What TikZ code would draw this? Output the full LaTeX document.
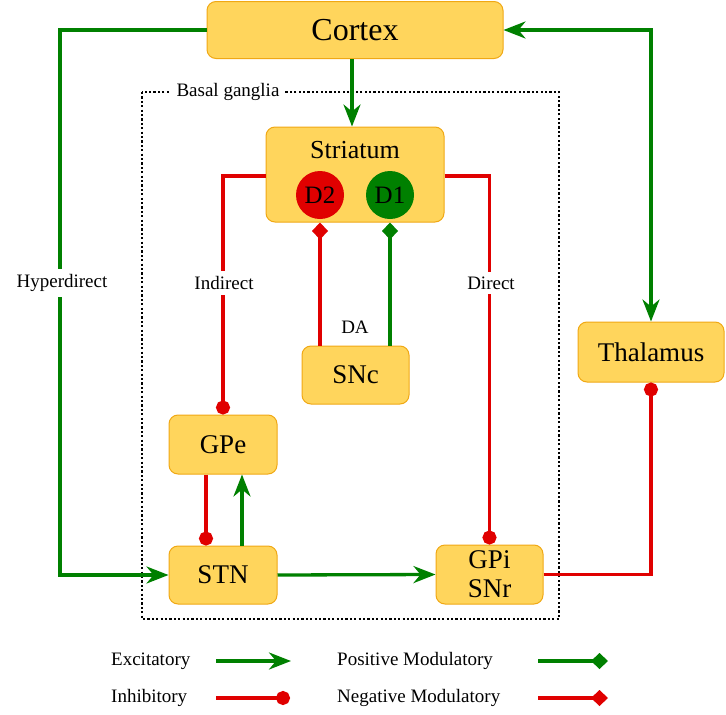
\documentclass[tikz,border=0pt]{standalone}
\usepackage{fontspec}
\setmainfont{Liberation Serif}
\usetikzlibrary{arrows.meta}
\definecolor{boxfill}{RGB}{255,213,92}
\definecolor{boxline}{RGB}{240,168,20}
\definecolor{exc}{RGB}{0,128,0}
\definecolor{inh}{RGB}{224,0,0}
\begin{document}
\begin{tikzpicture}[x=1pt,y=-1pt,
  box/.style={draw=boxline,fill=boxfill,line width=1pt,rounded corners=9pt,inner sep=0pt,
    font=\fontsize{27}{29}\selectfont,align=center},
  lbl/.style={font=\fontsize{19}{22}\selectfont,inner sep=1pt},
  exctip/.tip={Stealth[length=22pt,width=17pt,inset=7pt]},
  excline/.style={draw=exc,line width=3.3pt,-exctip},
  inhline/.style={draw=inh,line width=3.3pt,-{Circle[length=14pt]}},
  posmod/.style={draw=exc,line width=3.3pt,-{Diamond[length=17pt,width=16pt]}},
  negmod/.style={draw=inh,line width=3.3pt,-{Diamond[length=17pt,width=16pt]}},
  dot/.style={circle,inner sep=0pt,minimum size=48pt,font=\fontsize{25}{28}\selectfont}
]
\useasboundingbox (0,0) rectangle (726,715);

% basal ganglia frame
\draw[line width=1.3pt,dash pattern=on 2.2pt off 2.2pt] (142,92) rectangle (559,619);
\node[lbl,fill=white,inner xsep=6pt] (bglabel) at (228,92) {Basal ganglia};

% nodes
\node[box,minimum width=296pt,minimum height=57pt,font=\fontsize{32}{34}\selectfont] (cortex) at (355,30) {Cortex};
\node[box,minimum width=178pt,minimum height=95pt] (striatum) at (355,174.5) {};
\node[font=\fontsize{26}{28}\selectfont,inner sep=0pt] (stritext) at (355,150) {Striatum};
\node[dot,fill=inh] (d2) at (320,195) {D2};
\node[dot,fill=exc] (d1) at (390,195) {D1};
\node[box,minimum width=107pt,minimum height=58pt] (snc) at (355.5,375) {SNc};
\node[box,minimum width=108pt,minimum height=59pt] (gpe) at (223,444.5) {GPe};
\node[box,minimum width=108pt,minimum height=58pt] (stn) at (223,575) {STN};
\node[box,minimum width=107pt,minimum height=59pt] (gpi) at (489.5,574.5) {GPi\\SNr};
\node[box,minimum width=146pt,minimum height=60pt] (thal) at (651,352) {Thalamus};

% connectors
\coordinate (hc) at (60,575);
\draw[excline] (cortex.west) -| (hc) -- (stn.west);
\node[lbl,fill=white,inner ysep=5pt] (hyper) at (62,283) {Hyperdirect};

\draw[draw=exc,line width=3.3pt,exctip-exctip] (cortex.east) -| (thal.north);
\draw[excline] ([xshift=-3pt]cortex.south) -- ([xshift=-3pt]striatum.north);

\draw[inhline] ([yshift=-1.5pt]striatum.west) -| (gpe.north);
\node[lbl,fill=white,inner ysep=5pt] (indirect) at (224,283) {Indirect};
\draw[inhline] ([yshift=-1.5pt]striatum.east) -| (gpi.north);
\node[lbl,fill=white,inner ysep=5pt] (direct) at (491,283) {Direct};

\draw[negmod] (snc.north -| d2.south) -- (striatum.south -| d2.south);
\draw[posmod] (snc.north -| d1.south) -- (striatum.south -| d1.south);
\node[lbl] (da) at (355,327) {DA};

\draw[inhline] ([xshift=-17pt]gpe.south) -- ([xshift=-17pt]stn.north);
\draw[excline] ([xshift=19pt]stn.north) -- ([xshift=19pt]gpe.south);
\draw[excline] (stn.east) -- (gpi.west);
\draw[inhline] (gpi.east) -| (thal.south);

% legend
\node[lbl,anchor=west] (lexc) at (110,661) {Excitatory};
\coordinate (le1) at (216,661); \coordinate (le2) at (291,661);
\draw[excline] (le1) -- (le2);
\node[lbl,anchor=west] (linh) at (110,698) {Inhibitory};
\coordinate (li1) at (216,698); \coordinate (li2) at (290,698);
\draw[inhline] (li1) -- (li2);
\node[lbl,anchor=west] (lpos) at (336,661) {Positive Modulatory};
\coordinate (lp1) at (538,661); \coordinate (lp2) at (608,661);
\draw[posmod] (lp1) -- (lp2);
\node[lbl,anchor=west] (lneg) at (336,698) {Negative Modulatory};
\coordinate (ln1) at (538,698); \coordinate (ln2) at (608,698);
\draw[negmod] (ln1) -- (ln2);
\end{tikzpicture}
\end{document}
